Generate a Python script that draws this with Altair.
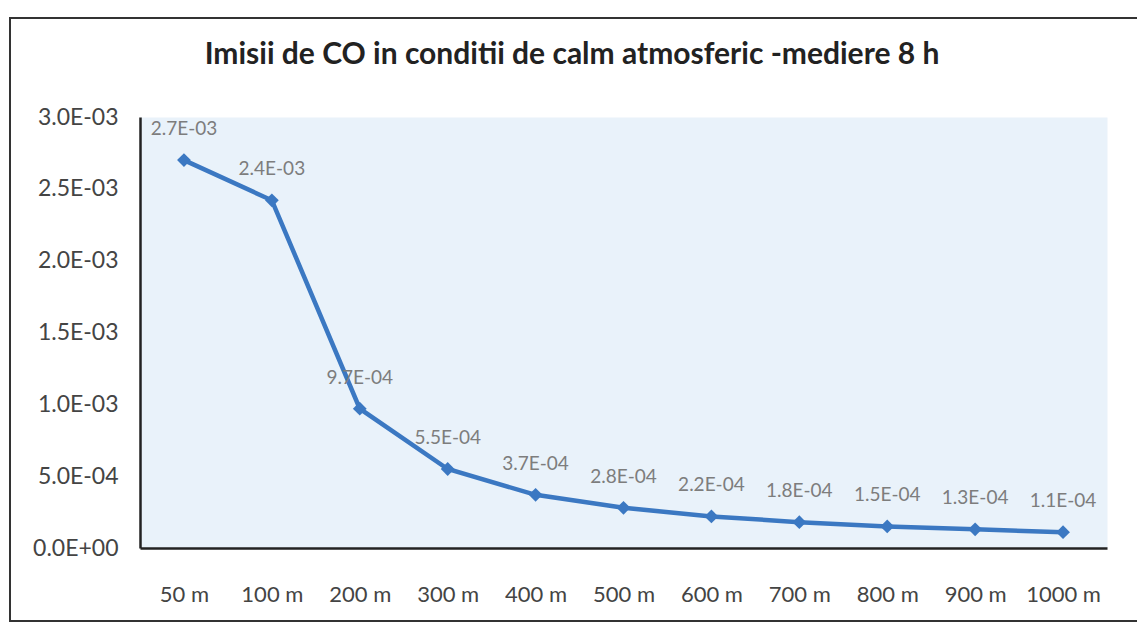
import altair as alt
import pandas as pd

categories = ["50 m", "100 m", "200 m", "300 m", "400 m", "500 m",
              "600 m", "700 m", "800 m", "900 m", "1000 m"]
values = [2.7e-3, 2.42e-3, 9.7e-4, 5.5e-4, 3.7e-4, 2.8e-4,
          2.2e-4, 1.8e-4, 1.5e-4, 1.3e-4, 1.1e-4]
y_ticks = [0, 5e-4, 1e-3, 1.5e-3, 2e-3, 2.5e-3, 3e-3]
title_text = "Imisii de CO  in conditii de calm atmosferic -mediere 8 h"

df = pd.DataFrame({"dist": categories, "val": values})
tdf = pd.DataFrame({"t": [title_text]})

FONT = "Lato"
LINE = "#3b78c2"

fmt_expr = ("{v} == 0 ? '0.0E+00' : ({v} < 0.00099 ? format({v}*10000, '.1f') + 'E-04' "
            ": format({v}*1000, '.1f') + 'E-03')")

x_enc = alt.X("dist:N", sort=categories, title=None,
              scale=alt.Scale(paddingInner=0, paddingOuter=0.5),
              axis=alt.Axis(labelAngle=0, labelFontSize=22, labelColor="#444",
                            labelFont=FONT, ticks=False, labelPadding=36,
                            domainColor="#222", domainWidth=2.5))
y_enc = alt.Y("val:Q", title=None,
              scale=alt.Scale(domain=[0, 0.003]),
              axis=alt.Axis(values=y_ticks, grid=False, ticks=False,
                            labelExpr=fmt_expr.format(v="datum.value"),
                            labelFontSize=23, labelColor="#444", labelFont=FONT,
                            labelPadding=22, domainColor="#222", domainWidth=2.5))

base = alt.Chart(df).encode(x=x_enc, y=y_enc)

line = base.mark_line(color=LINE, strokeWidth=4.5)
pts = base.mark_point(shape="diamond", filled=True, size=190, color=LINE, opacity=1)
labels = base.transform_calculate(
    lbl=fmt_expr.format(v="datum.val")
).mark_text(dy=-31, fontSize=19, color="#7d7d7d", font=FONT).encode(text="lbl:N")

frame = alt.Chart(df).mark_rect(fill="transparent", stroke="#333", strokeWidth=2).encode(
    x=alt.value(-130), x2=alt.value(998), y=alt.value(-99), y2=alt.value(504)
).transform_filter("datum.dist == '50 m'")

title = alt.Chart(tdf).mark_text(
    font=FONT, fontSize=30, fontWeight="bold", color="#222", baseline="middle", align="center"
).encode(x=alt.value(432), y=alt.value(-62), text="t:N")

chart = alt.layer(frame, line, pts, labels, title).properties(
    width=967, height=431,
    autosize=alt.AutoSizeParams(type="none"),
    padding={"left": 132, "top": 109, "right": 30, "bottom": 81},
    background="white",
).configure_view(fill="#e9f2fa", stroke="transparent")

chart.save("out.html", embed_options={"renderer": "svg", "actions": False})
